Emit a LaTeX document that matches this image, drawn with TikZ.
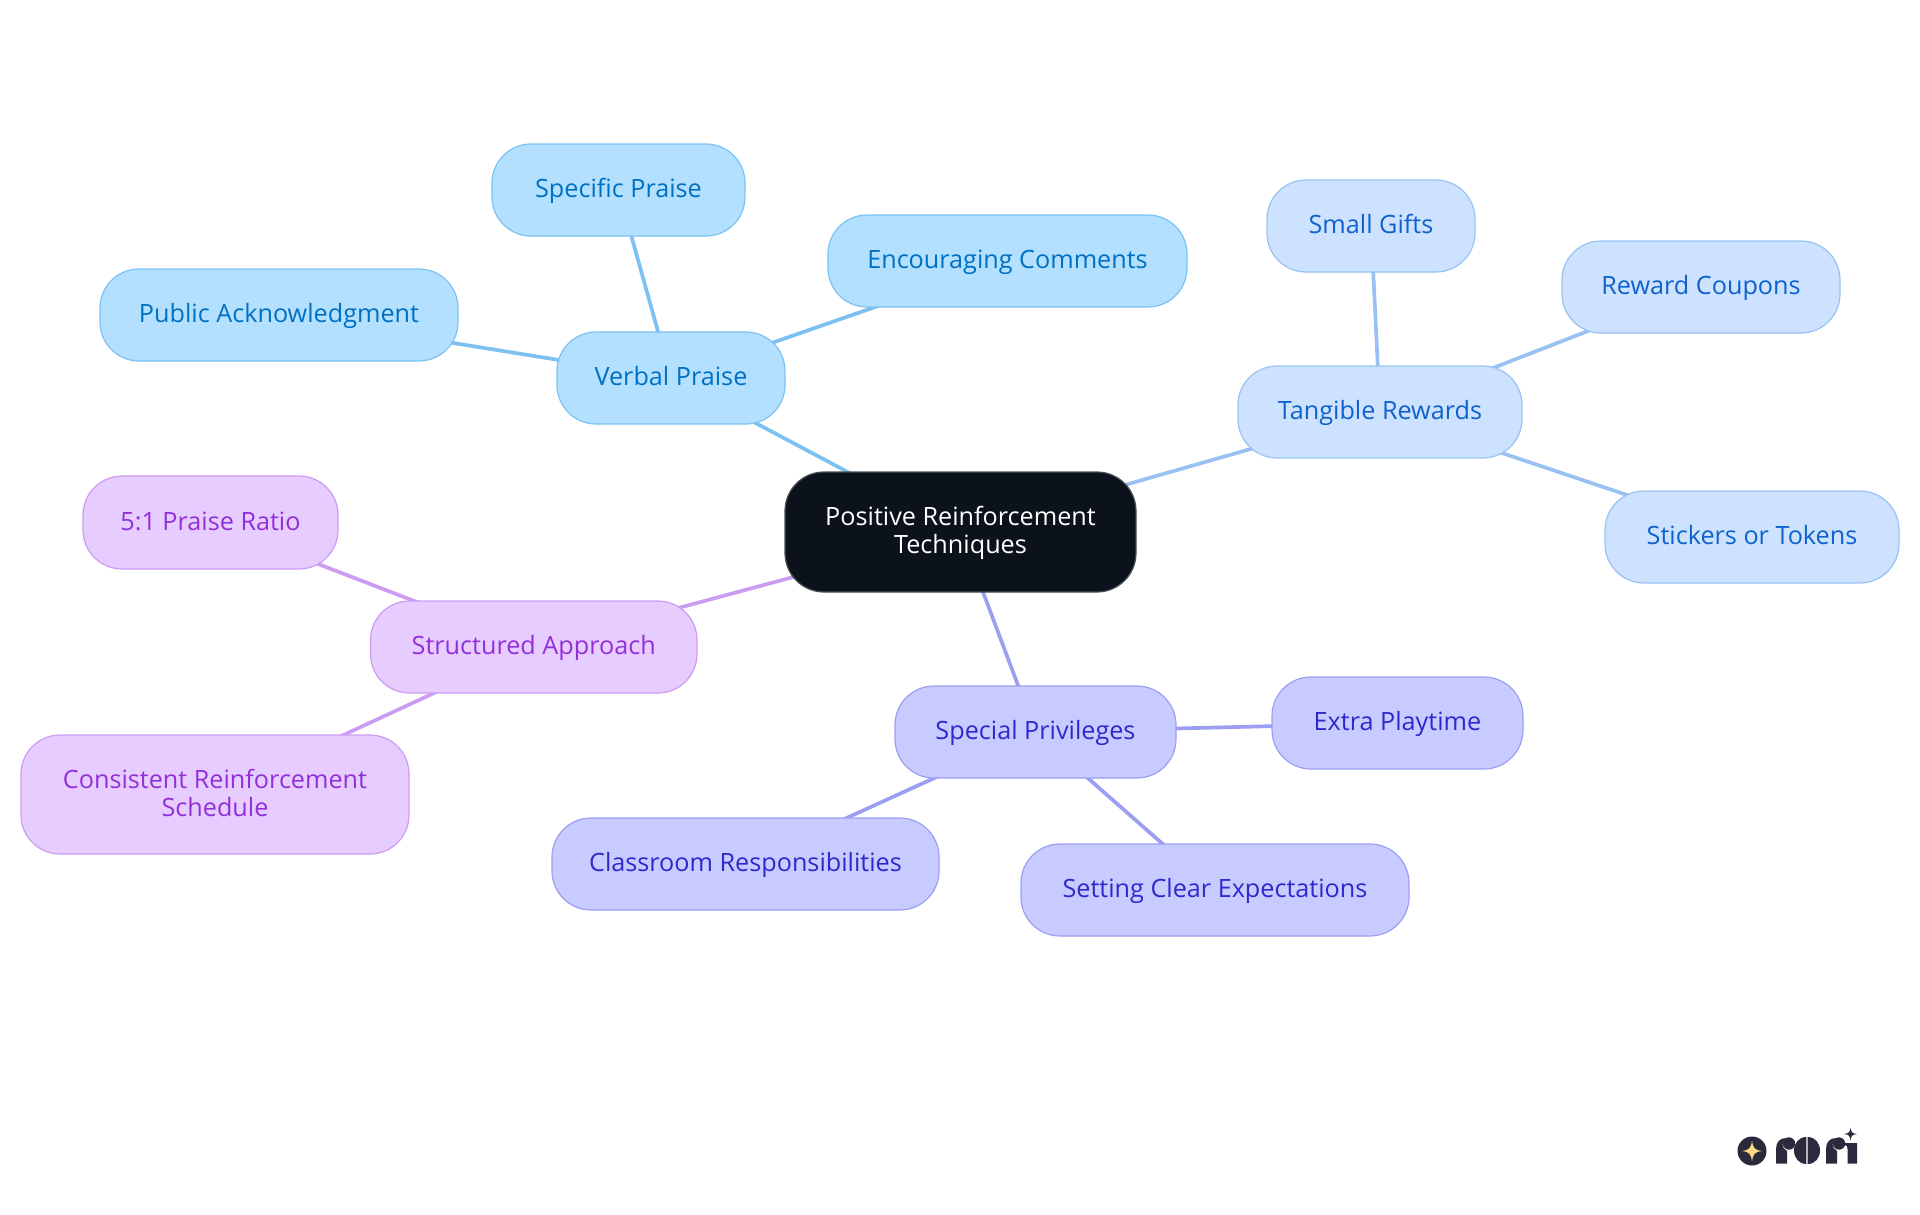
\documentclass[tikz,border=0pt]{standalone}
\usepackage{fontspec}
\setmainfont{Open Sans}
\usetikzlibrary{backgrounds}
\definecolor{bF}{HTML}{B3E0FF}\definecolor{bD}{HTML}{7CC1F2}\definecolor{bT}{HTML}{0070C2}
\definecolor{tF}{HTML}{CCE2FF}\definecolor{tD}{HTML}{99C2F2}\definecolor{tT}{HTML}{0F62CC}
\definecolor{pF}{HTML}{C8CBFF}\definecolor{pD}{HTML}{9C9EF2}\definecolor{pT}{HTML}{2F28CC}
\definecolor{vF}{HTML}{E7CCFF}\definecolor{vD}{HTML}{CB9CF2}\definecolor{vT}{HTML}{9230D8}
\definecolor{rootF}{HTML}{0B121B}\definecolor{rootD}{HTML}{4A4F55}
\definecolor{logoC}{HTML}{2B2A3C}\definecolor{logoS}{HTML}{FDD984}
\tikzset{x=1pt,y=-1pt,
 pill/.style={rounded corners=39pt,line width=1.2pt},
 lbl/.style={font=\fontsize{25.2}{27}\selectfont,align=center,inner sep=0pt,yshift=-2.2pt},
 conn/.style={line width=3.7pt}}
\newcommand{\pill}[7]{% name x1 y1 x2 y2 fam text
 \path[pill,fill=#6F,draw=#6D] (#2,#3) rectangle (#4,#5);
 \node[lbl,text=#6T] (#1) at ({(#2+#4)/2},{(#3+#5)/2}) {\strut #7};}
\begin{document}
\begin{tikzpicture}
\useasboundingbox (0,0) rectangle (1920,1215);
% centres of the pills, where the connectors meet
\foreach \n/\x/\y in {nV/671/378,nT/1380/412,nP/1035.5/732,nS/533.5/647,
 a1/618.5/190,a2/1007.5/261,a3/279/315,b1/1371/226,b2/1701/287,b3/1752/537,
 c1/1397.5/723,c2/745.5/864,c3/1215/890,d1/210.5/522.5,d2/215/794.5}
 \coordinate (\n) at (\x,\y);
\coordinate (nR) at (960.5,532);
\draw[conn,bD] (nR)--(nV) (nV)--(a1) (nV)--(a2) (nV)--(a3);
\draw[conn,tD] (nR)--(nT) (nT)--(b1) (nT)--(b2) (nT)--(b3);
\draw[conn,pD] (nR)--(nP) (nP)--(c1) (nP)--(c2) (nP)--(c3);
\draw[conn,vD] (nR)--(nS) (nS)--(d1) (nS)--(d2);
\path[pill,fill=rootF,draw=rootD] (785,472) rectangle (1136,592);
\node[lbl,text=white] (root) at (960.5,532) {\strut Positive Reinforcement\\\strut Techniques};
\pill{verbal}{557}{332}{785}{424}{b}{Verbal Praise}
\pill{specific}{492}{144}{745}{236}{b}{Specific Praise}
\pill{encour}{828}{215}{1187}{307}{b}{Encouraging Comments}
\pill{public}{100}{269}{458}{361}{b}{Public Acknowledgment}
\pill{tangible}{1238}{366}{1522}{458}{t}{Tangible Rewards}
\pill{gifts}{1267}{180}{1475}{272}{t}{Small Gifts}
\pill{coupons}{1562}{241}{1840}{333}{t}{Reward Coupons}
\pill{stickers}{1605}{491}{1899}{583}{t}{Stickers or Tokens}
\pill{special}{895}{686}{1176}{778}{p}{Special Privileges}
\pill{extra}{1272}{677}{1523}{769}{p}{Extra Playtime}
\pill{class}{552}{818}{939}{910}{p}{Classroom Responsibilities}
\pill{setting}{1021}{844}{1409}{936}{p}{Setting Clear Expectations}
\pill{struct}{370.5}{601}{697}{693}{v}{Structured Approach}
\pill{ratio}{83}{476}{338}{569}{v}{5:1 Praise Ratio}
\pill{consist}{21}{735}{409}{854}{v}{Consistent Reinforcement\\\strut Schedule}
% logo
\fill[logoC] (1752,1151) circle (14.5);
\fill[logoS] (1752,1140.5) .. controls (1753,1148) and (1754.5,1150) .. (1762,1151) .. controls (1754.5,1152) and (1753,1154) .. (1752,1161.5) .. controls (1751,1154) and (1749.5,1152) .. (1742,1151) .. controls (1749.5,1150) and (1751,1148) .. (1752,1140.5) -- cycle;
% r
\fill[logoC] (1776,1163.5) -- (1776,1149) .. controls (1776,1142) and (1780,1138) .. (1786,1138) .. controls (1781.5,1141) and (1781,1148) .. (1787,1151) -- (1787,1163.5) -- cycle;
\fill[logoC] (1789,1143.5) circle (6.2);
% o
\fill[logoC] (1806.4,1137) .. controls (1799,1137) and (1794,1143) .. (1794,1150.5) .. controls (1794,1158) and (1799,1164) .. (1806.4,1164) -- cycle;
\fill[logoC] (1807.6,1137) .. controls (1815,1137) and (1820,1143) .. (1820,1150.5) .. controls (1820,1158) and (1815,1164) .. (1807.6,1164) -- cycle;
% r
\fill[logoC] (1826,1163.5) -- (1826,1149) .. controls (1826,1142) and (1830,1138) .. (1836,1138) .. controls (1831.5,1141) and (1831,1148) .. (1837,1151) -- (1837,1163.5) -- cycle;
\fill[logoC] (1839,1143.5) circle (6.2);
% i
\fill[logoC] (1845,1143) -- (1857,1143) -- (1857,1163.5) -- (1847.5,1163.5) -- (1847.5,1149) .. controls (1847.5,1146.5) and (1847,1145.5) .. (1845,1145) -- cycle;
% sparkle
\fill[logoC] (1850.5,1127.5) .. controls (1851,1132) and (1852,1133.5) .. (1857,1134) .. controls (1852,1134.5) and (1851,1136) .. (1850.5,1140.5) .. controls (1850,1136) and (1849,1134.5) .. (1844,1134) .. controls (1849,1133.5) and (1850,1132) .. (1850.5,1127.5) -- cycle;
\end{tikzpicture}
\end{document}
